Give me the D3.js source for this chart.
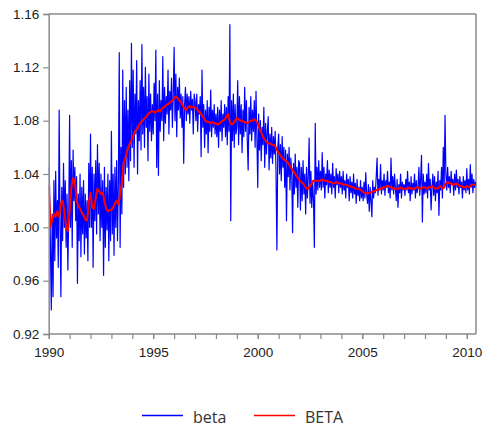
<!DOCTYPE html>
<html>
<head>
<meta charset="utf-8">
<script src="https://cdn.jsdelivr.net/npm/d3@7/dist/d3.min.js"></script>
<style>
  html, body { margin: 0; padding: 0; background: #fff; }
  svg { display: block; }
</style>
</head>
<body>
<svg id="chart" width="484" height="430"></svg>
<script>
// Raw weekly-ish estimate "beta" (24 samples per year, starting Jan 1990)
const betaRaw = [
  // 1990
  1.045, 1.030, 0.985, 0.938, 1.010, 0.948, 1.035, 0.975, 1.042, 0.992, 1.020, 0.970, 1.088, 1.005, 0.948, 1.030, 0.990, 1.048, 1.000, 1.035, 0.985, 1.025, 0.968, 1.010,
  // 1991
  1.084, 1.000, 1.050, 0.985, 1.058, 1.020, 1.045, 1.005, 1.038, 0.958, 1.025, 0.990, 1.040, 0.978, 1.030, 0.995, 1.035, 0.980, 1.025, 0.992, 1.020, 0.975, 1.048, 1.000,
  // 1992
  1.070, 1.000, 1.045, 0.970, 1.040, 1.005, 1.050, 0.995, 1.062, 1.010, 1.048, 0.990, 1.040, 1.000, 1.035, 0.964, 1.045, 0.985, 1.030, 0.998, 1.040, 0.975, 1.035, 0.990,
  // 1993
  1.072, 0.995, 1.040, 0.979, 1.045, 1.000, 1.050, 0.990, 1.035, 1.131, 0.985, 1.060, 1.010, 1.118, 1.030, 1.095, 1.040, 1.105, 1.045, 1.088, 1.035, 1.110, 1.050, 1.138,
  // 1994
  1.060, 1.118, 1.045, 1.100, 1.070, 1.125, 1.040, 1.095, 1.065, 1.110, 1.058, 1.137, 1.070, 1.105, 1.060, 1.120, 1.075, 1.098, 1.050, 1.115, 1.072, 1.100, 1.065, 1.092,
  // 1995
  1.070, 1.108, 1.080, 1.133, 1.045, 1.100, 1.039, 1.110, 1.072, 1.095, 1.080, 1.128, 1.065, 1.105, 1.078, 1.098, 1.085, 1.118, 1.070, 1.102, 1.088, 1.112, 1.075, 1.100,
  // 1996
  1.135, 1.080, 1.115, 1.068, 1.105, 1.088, 1.112, 1.082, 1.100, 1.075, 1.098, 1.048, 1.092, 1.105, 1.080, 1.100, 1.085, 1.098, 1.078, 1.102, 1.088, 1.096, 1.070, 1.100,
  // 1997
  1.095, 1.080, 1.100, 1.072, 1.092, 1.085, 1.098, 1.053, 1.118, 1.075, 1.092, 1.060, 1.088, 1.070, 1.095, 1.056, 1.090, 1.072, 1.103, 1.068, 1.088, 1.075, 1.092, 1.070,
  // 1998
  1.085, 1.068, 1.090, 1.060, 1.088, 1.072, 1.095, 1.065, 1.085, 1.075, 1.092, 1.068, 1.090, 1.062, 1.098, 1.072, 1.152, 1.005, 1.095, 1.065, 1.100, 1.060, 1.092, 1.070,
  // 1999
  1.075, 1.110, 1.062, 1.098, 1.070, 1.092, 1.056, 1.088, 1.068, 1.105, 1.072, 1.095, 1.065, 1.043, 1.090, 1.070, 1.098, 1.065, 1.088, 1.072, 1.095, 1.060, 1.102, 1.068,
  // 2000
  1.030, 1.085, 1.058, 1.080, 1.050, 1.075, 1.062, 1.090, 1.045, 1.078, 1.055, 1.072, 1.083, 1.043, 1.070, 1.052, 1.075, 1.048, 1.068, 1.055, 1.072, 1.040, 0.983, 1.060,
  // 2001
  1.070, 1.040, 1.062, 1.035, 1.068, 1.045, 1.060, 1.030, 1.058, 1.005, 1.055, 1.038, 1.060, 1.028, 1.052, 1.040, 0.996, 1.048, 1.025, 1.055, 1.030, 1.045, 1.015, 1.050,
  // 2002
  1.048, 1.013, 1.045, 1.020, 1.050, 1.025, 1.040, 1.010, 1.045, 1.022, 1.038, 1.067, 1.018, 1.042, 1.015, 1.035, 1.020, 0.985, 1.078, 1.025, 1.045, 1.028, 1.050, 1.030,
  // 2003
  1.042, 1.028, 1.056, 1.030, 1.045, 1.022, 1.040, 1.032, 1.050, 1.026, 1.043, 1.030, 1.040, 1.025, 1.048, 1.030, 1.038, 1.022, 1.044, 1.032, 1.040, 1.026, 1.042, 1.030,
  // 2004
  1.038, 1.025, 1.042, 1.028, 1.035, 1.022, 1.040, 1.030, 1.036, 1.020, 1.038, 1.026, 1.034, 1.022, 1.040, 1.025, 1.033, 1.018, 1.036, 1.024, 1.030, 1.020, 1.035, 1.022,
  // 2005
  1.030, 1.020, 1.034, 1.022, 1.041, 1.025, 1.018, 1.032, 1.012, 1.030, 1.020, 1.008, 1.035, 1.022, 1.030, 1.026, 1.038, 1.052, 1.024, 1.036, 1.028, 1.047, 1.025, 1.035,
  // 2006
  1.028, 1.040, 1.024, 1.035, 1.030, 1.042, 1.026, 1.034, 1.022, 1.052, 1.028, 1.038, 1.025, 1.040, 1.030, 1.020, 1.036, 1.015, 1.032, 1.026, 1.040, 1.022, 1.034, 1.028,
  // 2007
  1.032, 1.024, 1.036, 1.028, 1.042, 1.026, 1.034, 1.020, 1.038, 1.025, 1.033, 1.028, 1.040, 1.022, 1.035, 1.026, 1.030, 1.045, 1.024, 1.036, 1.054, 1.004, 1.040, 1.025,
  // 2008
  1.034, 1.026, 1.040, 1.022, 1.048, 1.028, 1.036, 1.013, 1.030, 1.040, 1.024, 1.038, 1.020, 1.034, 1.026, 1.042, 1.009, 1.035, 1.028, 1.045, 1.022, 1.060, 1.030, 1.084,
  // 2009
  1.040, 1.028, 1.045, 1.030, 1.038, 1.026, 1.042, 1.032, 1.036, 1.024, 1.040, 1.028, 1.043, 1.030, 1.036, 1.025, 1.038, 1.030, 1.034, 1.022, 1.038, 1.028, 1.035, 1.026,
  // 2010
  1.044, 1.028, 1.036, 1.025, 1.047, 1.030, 1.040, 1.026, 1.036, 1.030, 1.034
];

// Smoothed "BETA" (monthly, starting Jan 1990)
const betaSmooth = [
  1.032, 1.000, 1.006, 1.010, 1.008, 1.012, 1.008, 1.018, 1.020, 1.012, 1.000, 0.997,
  1.012, 1.030, 1.037, 1.034, 1.020, 1.016, 1.014, 1.011, 1.009, 1.006, 1.005, 1.018,
  1.026, 1.015, 1.014, 1.022, 1.029, 1.027, 1.025, 1.026, 1.020, 1.014, 1.012, 1.013,
  1.013, 1.015, 1.018, 1.020, 1.017, 1.024, 1.034, 1.048, 1.052, 1.057, 1.061, 1.064,
  1.067, 1.070, 1.073, 1.074, 1.077, 1.079, 1.080, 1.082, 1.083, 1.085, 1.086, 1.087,
  1.087, 1.086, 1.087, 1.088, 1.087, 1.089, 1.090, 1.091, 1.092, 1.093, 1.094, 1.095,
  1.097, 1.098, 1.097, 1.095, 1.094, 1.091, 1.089, 1.088, 1.090, 1.091, 1.090, 1.090,
  1.090, 1.089, 1.087, 1.086, 1.084, 1.082, 1.080, 1.079, 1.079, 1.078, 1.079, 1.078,
  1.078, 1.077, 1.078, 1.079, 1.080, 1.081, 1.083, 1.085, 1.079, 1.077, 1.078, 1.080,
  1.082, 1.081, 1.080, 1.080, 1.079, 1.079, 1.078, 1.079, 1.080, 1.080, 1.081, 1.080,
  1.078, 1.074, 1.071, 1.068, 1.066, 1.064, 1.063, 1.063, 1.062, 1.062, 1.061, 1.058,
  1.056, 1.054, 1.052, 1.051, 1.050, 1.049, 1.047, 1.045, 1.043, 1.041, 1.039, 1.037,
  1.035, 1.034, 1.033, 1.031, 1.029, 1.029, 1.031, 1.033, 1.035, 1.035, 1.035, 1.035,
  1.035, 1.036, 1.035, 1.035, 1.035, 1.034, 1.034, 1.033, 1.033, 1.034, 1.033, 1.033,
  1.033, 1.032, 1.032, 1.032, 1.031, 1.031, 1.030, 1.030, 1.029, 1.029, 1.029, 1.028,
  1.027, 1.026, 1.026, 1.025, 1.026, 1.026, 1.027, 1.027, 1.028, 1.028, 1.029, 1.029,
  1.030, 1.030, 1.031, 1.031, 1.030, 1.030, 1.029, 1.029, 1.029, 1.029, 1.030, 1.029,
  1.029, 1.029, 1.029, 1.030, 1.029, 1.029, 1.029, 1.030, 1.030, 1.029, 1.029, 1.030,
  1.030, 1.029, 1.030, 1.030, 1.031, 1.030, 1.029, 1.029, 1.030, 1.031, 1.029, 1.030,
  1.033, 1.034, 1.033, 1.033, 1.032, 1.032, 1.033, 1.032, 1.031, 1.031, 1.030, 1.030,
  1.031, 1.030, 1.031, 1.032, 1.032, 1.032
];

const startYear = 1990;
const rawPerYear = 24;
const smoothPerYear = 12;
const yTicks = [0.92, 0.96, 1.00, 1.04, 1.08, 1.12, 1.16];
const xMajorTicks = [1990, 1995, 2000, 2005, 2010];
const xMinorTicks = d3.range(1990, 2011, 1);
const seriesNames = ["beta", "BETA"];

const svg = d3.select("#chart");
const m = { left: 48.7, right: 476, top: 14, bottom: 334 };

const x = d3.scaleLinear().domain([1990, 2010.44]).range([m.left, m.right]);
const y = d3.scaleLinear().domain([0.92, 1.16]).range([m.bottom, m.top]);

const rawPts = betaRaw.map((v, i) => [startYear + i / rawPerYear, v]);
const smoothPts = betaSmooth.map((v, i) => [startYear + i / smoothPerYear, v]);

svg.append("defs").append("clipPath").attr("id", "plot")
  .append("rect")
  .attr("x", m.left).attr("y", m.top)
  .attr("width", m.right - m.left).attr("height", m.bottom - m.top);

const frameColor = "#8a8a8a";
const labelFont = "'Liberation Sans', Arial, sans-serif";

// top and right frame lines
svg.append("line").attr("x1", m.left).attr("x2", m.right).attr("y1", m.top).attr("y2", m.top)
  .attr("stroke", frameColor).attr("stroke-width", 1.5);
svg.append("line").attr("x1", m.right).attr("x2", m.right).attr("y1", m.top).attr("y2", m.bottom)
  .attr("stroke", frameColor).attr("stroke-width", 1.5);

const line = d3.line().x(d => x(d[0])).y(d => y(d[1]));

const g = svg.append("g").attr("clip-path", "url(#plot)");
g.append("path").datum(rawPts)
  .attr("d", line).attr("fill", "none")
  .attr("stroke", "#0000ff").attr("stroke-width", 1.2).attr("stroke-linejoin", "round");
g.append("path").datum(smoothPts)
  .attr("d", line).attr("fill", "none")
  .attr("stroke", "#ff0000").attr("stroke-width", 2).attr("stroke-linejoin", "round");

// y axis
const yAxis = svg.append("g").attr("transform", `translate(${m.left},0)`)
  .call(d3.axisLeft(y).tickValues(yTicks).tickFormat(d3.format(".2f")).tickSize(5.5).tickPadding(4));
yAxis.select(".domain").attr("stroke", frameColor).attr("stroke-width", 1.5);
yAxis.selectAll(".tick line").attr("stroke", frameColor).attr("stroke-width", 1.2);
yAxis.selectAll("text").attr("font-family", labelFont).attr("font-size", 13.5).attr("fill", "#222");

// x axis: yearly minor ticks plus labeled majors
const xAxisMinor = svg.append("g").attr("transform", `translate(0,${m.bottom})`)
  .call(d3.axisBottom(x).tickValues(xMinorTicks).tickFormat("").tickSize(5));
xAxisMinor.select(".domain").remove();
xAxisMinor.selectAll(".tick line").attr("stroke", frameColor).attr("stroke-width", 1.2);

const xAxis = svg.append("g").attr("transform", `translate(0,${m.bottom})`)
  .call(d3.axisBottom(x).tickValues(xMajorTicks).tickFormat(d3.format("d")).tickSize(5).tickPadding(8));
xAxis.select(".domain").attr("stroke", frameColor).attr("stroke-width", 1.5)
  .attr("d", `M${m.left},0H${m.right}`);
xAxis.selectAll(".tick line").attr("stroke", frameColor).attr("stroke-width", 1.2);
xAxis.selectAll("text").attr("font-family", labelFont).attr("font-size", 13.5).attr("fill", "#222");

// legend
const legend = svg.append("g");
const legendItems = [
  { name: seriesNames[0], color: "#0000ff", x0: 142 },
  { name: seriesNames[1], color: "#ff0000", x0: 254 }
];
legendItems.forEach(it => {
  legend.append("line").attr("x1", it.x0).attr("x2", it.x0 + 41)
    .attr("y1", 415.5).attr("y2", 415.5)
    .attr("stroke", it.color).attr("stroke-width", 1.6);
  legend.append("text").attr("x", it.x0 + 51).attr("y", 423)
    .attr("font-family", "'Open Sans', 'Noto Sans', sans-serif").attr("font-size", 16)
    .attr("fill", "#333").text(it.name);
});
</script>
</body>
</html>
